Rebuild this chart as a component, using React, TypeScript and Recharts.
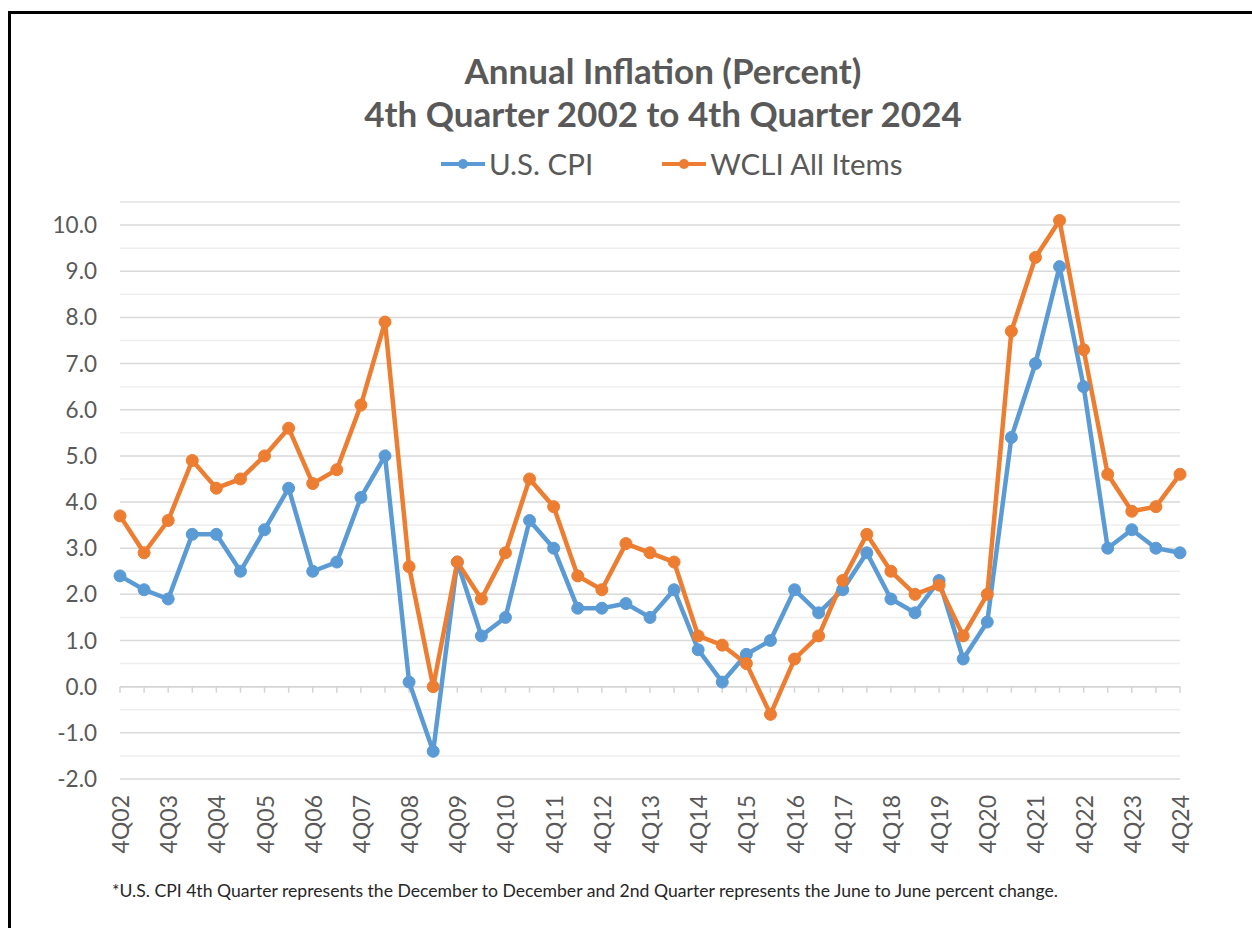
import React from 'react';
import { LineChart, Line, XAxis, YAxis, CartesianGrid, ReferenceLine } from 'recharts';

const periods = [
  '4Q02', '2Q03', '4Q03', '2Q04', '4Q04', '2Q05', '4Q05', '2Q06', '4Q06', '2Q07', '4Q07',
  '2Q08', '4Q08', '2Q09', '4Q09', '2Q10', '4Q10', '2Q11', '4Q11', '2Q12', '4Q12', '2Q13',
  '4Q13', '2Q14', '4Q14', '2Q15', '4Q15', '2Q16', '4Q16', '2Q17', '4Q17', '2Q18', '4Q18',
  '2Q19', '4Q19', '2Q20', '4Q20', '2Q21', '4Q21', '2Q22', '4Q22', '2Q23', '4Q23', '2Q24', '4Q24',
];

const usCpi = [
  2.4, 2.1, 1.9, 3.3, 3.3, 2.5, 3.4, 4.3, 2.5, 2.7, 4.1,
  5.0, 0.1, -1.4, 2.7, 1.1, 1.5, 3.6, 3.0, 1.7, 1.7, 1.8,
  1.5, 2.1, 0.8, 0.1, 0.7, 1.0, 2.1, 1.6, 2.1, 2.9, 1.9,
  1.6, 2.3, 0.6, 1.4, 5.4, 7.0, 9.1, 6.5, 3.0, 3.4, 3.0, 2.9,
];

const wcliAllItems = [
  3.7, 2.9, 3.6, 4.9, 4.3, 4.5, 5.0, 5.6, 4.4, 4.7, 6.1,
  7.9, 2.6, 0.0, 2.7, 1.9, 2.9, 4.5, 3.9, 2.4, 2.1, 3.1,
  2.9, 2.7, 1.1, 0.9, 0.5, -0.6, 0.6, 1.1, 2.3, 3.3, 2.5,
  2.0, 2.2, 1.1, 2.0, 7.7, 9.3, 10.1, 7.3, 4.6, 3.8, 3.9, 4.6,
];

const yTicks = [-2, -1, 0, 1, 2, 3, 4, 5, 6, 7, 8, 9, 10];
const halfTicks = [-1.5, -0.5, 0.5, 1.5, 2.5, 3.5, 4.5, 5.5, 6.5, 7.5, 8.5, 9.5, 10.5];

const seriesNames = ['U.S. CPI', 'WCLI All Items'];
const titleLines = ['Annual Inflation (Percent)', '4th Quarter 2002 to 4th Quarter 2024'];
const footnote =
  '*U.S. CPI 4th Quarter represents the December to December and 2nd Quarter represents the June to June percent change.';

const BLUE = '#5B9BD5';
const ORANGE = '#ED7D31';
const TEXT = '#595959';
const FONT = 'Lato, "Open Sans", sans-serif';

const data = periods.map((p, i) => ({ period: p, cpi: usCpi[i], wcli: wcliAllItems[i] }));

const XTick = (props: any) => {
  const { x, y, payload, index } = props;
  if (index % 2 !== 0) return null;
  return (
    <text
      transform={`translate(${x},${y}) rotate(-90)`}
      textAnchor="end"
      dominantBaseline="central"
      fill={TEXT}
      fontSize={23}
      fontFamily={FONT}
    >
      {payload.value}
    </text>
  );
};

const ZeroAxis = (props: any) => {
  const { x1, y1, x2, y2 } = props;
  if (x1 == null) return null;
  const n = periods.length;
  const step = (x2 - x1) / (n - 1);
  return (
    <g>
      <line x1={x1} y1={y1} x2={x2} y2={y2} stroke="#d4d4d4" strokeWidth={1.5} />
      {periods.map((p, i) => (
        <line
          key={p}
          x1={x1 + step * i}
          x2={x1 + step * i}
          y1={y1}
          y2={y1 + 6}
          stroke="#d4d4d4"
          strokeWidth={1.5}
        />
      ))}
    </g>
  );
};

const LegendItem = ({ color, label }: { color: string; label: string }) => (
  <div style={{ display: 'flex', alignItems: 'center' }}>
    <svg width={46} height={14} style={{ marginRight: 3 }}>
      <line x1={1} y1={7} x2={45} y2={7} stroke={color} strokeWidth={4} />
      <circle cx={23} cy={7} r={5} fill={color} />
    </svg>
    <span style={{ fontSize: 29.5, color: TEXT, fontFamily: FONT }}>{label}</span>
  </div>
);

export default function App() {
  return (
    <div
      style={{
        position: 'absolute',
        left: 0,
        top: 0,
        width: 1252,
        height: 928,
        background: '#fff',
        overflow: 'hidden',
      }}
    >
      <div
        style={{
          position: 'absolute',
          left: 8,
          top: 11,
          width: 1300,
          height: 1000,
          borderTop: '3px solid #000',
          borderLeft: '3px solid #000',
        }}
      />
      <div
        style={{
          position: 'absolute',
          left: 0,
          width: 1326,
          top: 49,
          textAlign: 'center',
          fontFamily: FONT,
          fontWeight: 700,
          fontSize: 35,
          color: TEXT,
          lineHeight: '43px',
        }}
      >
        <div>{titleLines[0]}</div>
        <div>{titleLines[1]}</div>
      </div>
      <div
        style={{
          position: 'absolute',
          left: 440,
          top: 146,
          display: 'flex',
          gap: 68,
        }}
      >
        <LegendItem color={BLUE} label={seriesNames[0]} />
        <LegendItem color={ORANGE} label={seriesNames[1]} />
      </div>
      <div style={{ position: 'absolute', left: 0, top: 0 }}>
        <LineChart
          width={1252}
          height={928}
          data={data}
          margin={{ top: 202, right: 72, bottom: 39, left: 20 }}
        >
          <CartesianGrid vertical={false} stroke="#d9d9d9" strokeWidth={1.5} />
          {halfTicks.map((v) => (
            <ReferenceLine key={v} y={v} stroke="#eeeeee" strokeWidth={1.5} ifOverflow="extendDomain" />
          ))}
          <ReferenceLine y={0} shape={ZeroAxis} />
          <XAxis
            dataKey="period"
            scale="point"
            padding={{ left: 0, right: 0 }}
            interval={0}
            axisLine={false}
            tickLine={false}
            tickSize={0}
            tickMargin={16}
            height={110}
            tick={<XTick />}
          />
          <YAxis
            domain={[-2, 10.5]}
            ticks={yTicks}
            axisLine={false}
            tickLine={false}
            tickSize={0}
            tickMargin={23}
            width={100}
            tickFormatter={(v: number) => v.toFixed(1)}
            tick={{ fill: TEXT, fontSize: 22.5, fontFamily: FONT }}
          />
          <Line
            type="linear"
            dataKey="cpi"
            name={seriesNames[0]}
            stroke={BLUE}
            strokeWidth={4.5}
            dot={{ r: 6, fill: BLUE, stroke: BLUE, strokeWidth: 1 }}
            isAnimationActive={false}
          />
          <Line
            type="linear"
            dataKey="wcli"
            name={seriesNames[1]}
            stroke={ORANGE}
            strokeWidth={4.5}
            dot={{ r: 6, fill: ORANGE, stroke: ORANGE, strokeWidth: 1 }}
            isAnimationActive={false}
          />
        </LineChart>
      </div>
      <div
        style={{
          position: 'absolute',
          left: 112,
          top: 880,
          fontFamily: FONT,
          fontSize: 17.6,
          color: '#262626',
          whiteSpace: 'nowrap',
        }}
      >
        {footnote}
      </div>
    </div>
  );
}
